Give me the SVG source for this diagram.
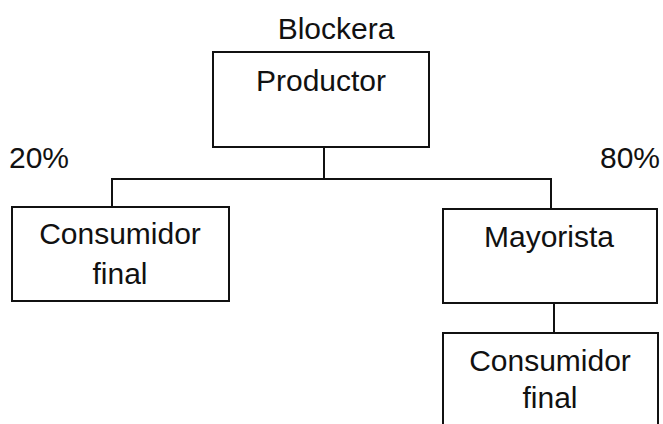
<svg xmlns="http://www.w3.org/2000/svg" width="663" height="424" viewBox="0 0 663 424">
  <style>
    .box { fill: #fff; stroke: #111; stroke-width: 2; }
    .wire { fill: none; stroke: #111; stroke-width: 2; }
    text { font-family: "Liberation Sans", Arial, Helvetica, sans-serif; font-size: 30px; fill: #111; }
    .c { text-anchor: middle; }
  </style>
  <rect width="663" height="424" fill="#fff"/>

  <g id="connectors">
    <line class="wire" x1="324" y1="147" x2="324" y2="179"/>
    <polyline class="wire" points="112,207 112,179 551,179 551,209"/>
    <line class="wire" x1="554" y1="303" x2="554" y2="333"/>
  </g>

  <text class="c" x="336" y="39">Blockera</text>
  <text x="9" y="168">20%</text>
  <text x="660" y="168" text-anchor="end">80%</text>

  <g id="productor">
    <rect class="box" x="213" y="52" width="216" height="95"/>
    <text class="c" x="321" y="91">Productor</text>
  </g>

  <g id="consumidor-final-1">
    <rect class="box" x="12" y="207" width="217" height="94"/>
    <text class="c" x="120" y="244">Consumidor</text>
    <text class="c" x="120" y="284">final</text>
  </g>

  <g id="mayorista">
    <rect class="box" x="443" y="209" width="214" height="94"/>
    <text class="c" x="549" y="247">Mayorista</text>
  </g>

  <g id="consumidor-final-2">
    <rect class="box" x="443" y="333" width="215" height="110"/>
    <text class="c" x="550" y="371">Consumidor</text>
    <text class="c" x="550" y="408">final</text>
  </g>
</svg>
